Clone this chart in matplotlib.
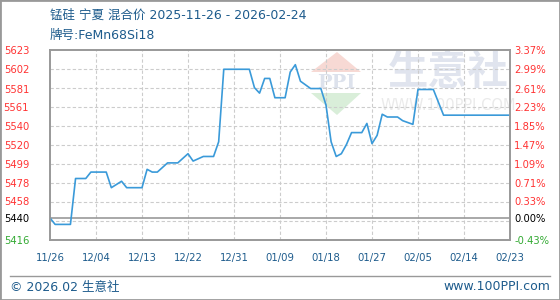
import numpy as np
import matplotlib.pyplot as plt
from matplotlib.lines import Line2D
from matplotlib.patches import Polygon, Rectangle

plt.rcParams['font.family'] = ['DejaVu Sans', 'Noto Sans CJK SC']

title = "锰硅 宁夏 混合价 2025-11-26 - 2026-02-24"
subtitle = "牌号:FeMn68Si18"

# day index from 2025-11-26, price
day_idx = [0, 1, 4, 5, 7, 8, 11, 12, 14, 15, 18, 19, 20, 21, 23, 25, 27, 28,
           30, 32, 33, 34, 39, 40, 41, 42, 43, 44, 46, 47, 48, 49, 50, 51,
           53, 54, 55, 56, 57, 58, 59, 61, 62, 63, 64, 65, 66, 68, 69, 70,
           71, 72, 75, 77, 90]
price = [5440, 5433, 5433, 5483, 5483, 5490, 5490, 5473, 5480, 5473, 5473,
         5493, 5490, 5490, 5500, 5500, 5510, 5502, 5507, 5507, 5523, 5602,
         5602, 5582, 5576, 5592, 5592, 5571, 5571, 5599, 5607, 5589, 5585,
         5581, 5581, 5563, 5523, 5507, 5510, 5520, 5533, 5533, 5543, 5521,
         5530, 5553, 5550, 5550, 5546, 5544, 5542, 5580, 5580, 5552, 5552]

x_tick_labels = ["11/26", "12/04", "12/13", "12/22", "12/31", "01/09",
                 "01/18", "01/27", "02/05", "02/14", "02/23"]
left_labels = [5623, 5602, 5581, 5561, 5540, 5520, 5499, 5478, 5458, 5440, 5416]
right_labels = ["3.37%", "2.99%", "2.61%", "2.23%", "1.85%", "1.47%",
                "1.09%", "0.71%", "0.33%", "0.00%", "-0.43%"]
base_price = 5440

W, H = 560, 300
def fx(px):
    return px / W
def fy(py):
    return 1 - py / H

blue_txt = "#1d5b8c"
red = "#ff3333"
green = "#33aa33"
grid_c = "#cccccc"
frame_c = "#999999"

fig = plt.figure(figsize=(W / 100, H / 100), dpi=100)
ax = fig.add_axes([fx(50), fy(240), 460 / W, 190 / H])
ax.set_facecolor("none")

# watermark (logo + 生意社)
fig.add_artist(Polygon([[fx(311), fy(72)], [fx(337), fy(52)], [fx(361), fy(72)]],
                       closed=True, transform=fig.transFigure,
                       facecolor="#f7d9d4", edgecolor="none", zorder=-2))
fig.add_artist(Polygon([[fx(311), fy(93)], [fx(337), fy(115)], [fx(361), fy(93)]],
                       closed=True, transform=fig.transFigure,
                       facecolor="#d9eed9", edgecolor="none", zorder=-2))
fig.text(fx(336), fy(83), "PPI", fontsize=14, fontweight="bold", family="DejaVu Serif",
         color="#dde2ec", ha="center", va="center", zorder=-2)
fig.text(fx(448), fy(72), "生意社", fontsize=29, fontweight="bold",
         family=["Noto Sans CJK SC"], color="#e0e4ee", ha="center", va="center", zorder=-2)
fig.text(fx(448), fy(106), "WWW.100PPI.COM", fontsize=10.5,
         color="#eaeaea", ha="center", va="center", zorder=-2)

# grid
for g in np.linspace(5416, 5623, 11)[1:-1]:
    ax.axhline(g, color=grid_c, lw=0.8, ls=(0, (3, 2)), zorder=1)
for t in range(9, 90, 9):
    ax.axvline(t, color=grid_c, lw=0.8, ls=(0, (3, 2)), zorder=1)
ax.axhline(base_price, color=frame_c, lw=1.2, zorder=2)

ax.plot(day_idx, price, color="#3a9ad9", lw=1.2, zorder=3)

ax.set_xlim(0, 90)
ax.set_ylim(5416, 5623)
ax.set_xticks(range(0, 91, 9))
ax.set_xticklabels(x_tick_labels, fontsize=7.3, color=blue_txt)
ax.tick_params(axis="x", length=0, pad=9)

def lab_color(v):
    if v > base_price:
        return red
    if v < base_price:
        return green
    return "black"

ax.set_yticks(left_labels)
ax.set_yticklabels([str(v) for v in left_labels], fontsize=7.2)
ax.tick_params(axis="y", length=0, pad=15)
for lab, v in zip(ax.get_yticklabels(), left_labels):
    lab.set_color(lab_color(v))

ax2 = ax.twinx()
ax2.set_ylim(ax.get_ylim())
ax2.set_yticks(left_labels)
ax2.set_yticklabels(right_labels, fontsize=7.2)
ax2.tick_params(axis="y", length=0, pad=3)
for lab, v in zip(ax2.get_yticklabels(), left_labels):
    lab.set_color(lab_color(v))

for a in (ax, ax2):
    for s in a.spines.values():
        s.set_color(frame_c)
        s.set_linewidth(1.2)

fig.text(fx(50), fy(15), title, fontsize=9, color=blue_txt, va="center", ha="left")
fig.text(fx(50), fy(35), subtitle, fontsize=9, color=blue_txt, va="center", ha="left")

fig.add_artist(Line2D([fx(10), fx(550)], [fy(276), fy(276)], color=frame_c, lw=1))
fig.text(fx(10), fy(287), "© 2026.02 生意社", fontsize=9, color=blue_txt,
         va="center", ha="left")
fig.text(fx(550), fy(287), "www.100PPI.com", fontsize=9, color=blue_txt,
         va="center", ha="right")
fig.add_artist(Rectangle((0, 0), 1, 1, transform=fig.transFigure, fill=False,
                         edgecolor=frame_c, lw=2))

fig.savefig("out.png", dpi=100)
